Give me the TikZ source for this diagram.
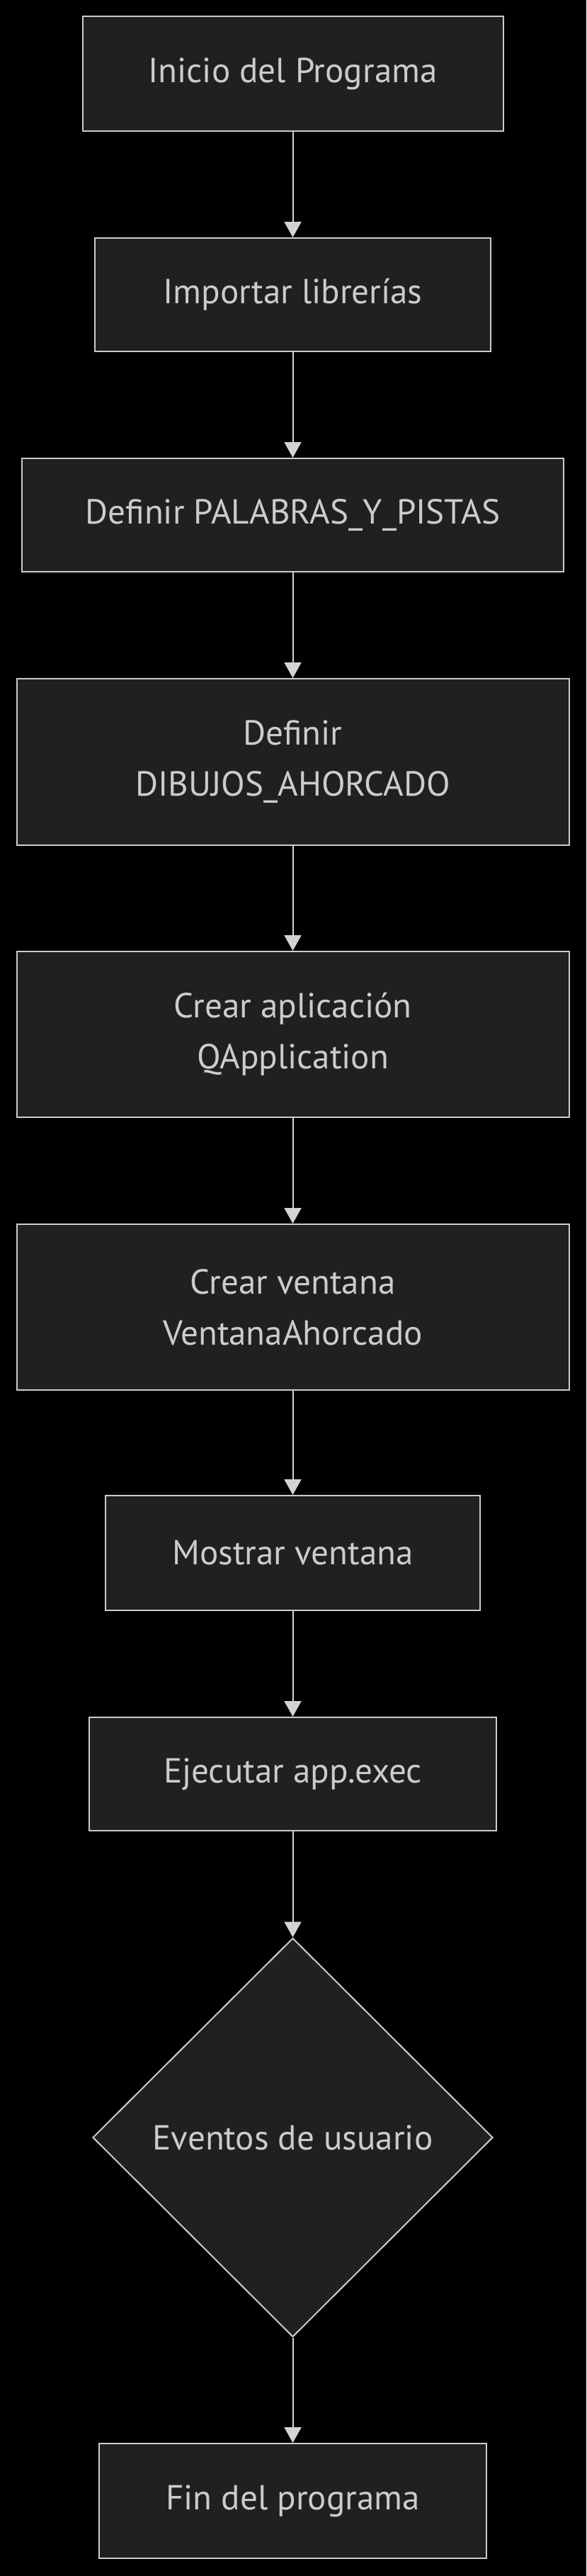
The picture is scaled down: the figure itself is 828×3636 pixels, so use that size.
\documentclass[tikz,border=0pt]{standalone}
\usepackage{fontspec}
\setmainfont{PT Sans}
\usetikzlibrary{shapes.geometric,arrows.meta}
\definecolor{nodefill}{HTML}{1F2020}
\definecolor{nodeline}{HTML}{CCCCCC}
\definecolor{txt}{HTML}{CCCCCC}
\definecolor{edge}{HTML}{D3D3D3}
\begin{document}
\begin{tikzpicture}[x=0.75pt,y=-0.75pt,
  box/.style={draw=nodeline, fill=nodefill, line width=1.5pt, text=txt, inner sep=0pt, align=center, font=\fontsize{36.8}{54}\selectfont},
  dec/.style={box, diamond},
  flow/.style={draw=edge, line width=1.5pt, -{Triangle[length=16.5pt,width=18pt]}}]
\fill[black] (0,0) rectangle (828,3636);
\useasboundingbox (0,0) rectangle (828,3636);
\node[box, minimum width=594*0.75pt, minimum height=162*0.75pt] (b1) at (413.5,104) {Inicio del Programa};
\node[box, minimum width=559*0.75pt, minimum height=160*0.75pt] (b2) at (413.5,416) {Importar librerías};
\node[box, minimum width=765*0.75pt, minimum height=160*0.75pt] (b3) at (413.5,727) {Definir PALABRAS\_Y\_PISTAS};
\node[box, minimum width=780*0.75pt, minimum height=235*0.75pt] (b4) at (413.5,1075.5) {Definir\\DIBUJOS\_AHORCADO};
\node[box, minimum width=780*0.75pt, minimum height=234*0.75pt] (b5) at (413.5,1460) {Crear aplicación\\QApplication};
\node[box, minimum width=780*0.75pt, minimum height=234*0.75pt] (b6) at (413.5,1845) {Crear ventana\\VentanaAhorcado};
\node[box, minimum width=529*0.75pt, minimum height=162*0.75pt] (b7) at (413.5,2192) {Mostrar ventana};
\node[box, minimum width=575*0.75pt, minimum height=160*0.75pt] (b8) at (413.5,2504) {Ejecutar app.exec};
\node[dec, minimum width=565*0.75pt, minimum height=563*0.75pt] (d1) at (413.5,3017) {Eventos de usuario};
\node[box, minimum width=547*0.75pt, minimum height=162*0.75pt] (b9) at (413.5,3530) {Fin del programa};
\draw[flow] (b1) -- (b2);
\draw[flow] (b2) -- (b3);
\draw[flow] (b3) -- (b4);
\draw[flow] (b4) -- (b5);
\draw[flow] (b5) -- (b6);
\draw[flow] (b6) -- (b7);
\draw[flow] (b7) -- (b8);
\draw[flow] (b8) -- (d1);
\draw[flow] (d1) -- (b9);
\end{tikzpicture}
\end{document}
